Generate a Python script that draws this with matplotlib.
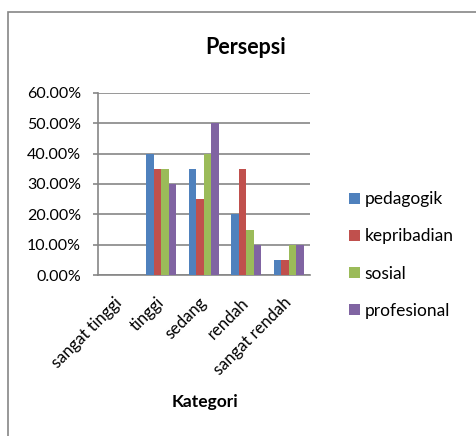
import numpy as np
import matplotlib.pyplot as plt
from matplotlib.ticker import PercentFormatter
from matplotlib.patches import Rectangle

plt.rcParams['font.family'] = ['Lato', 'DejaVu Sans']

categories = ['sangat tinggi', 'tinggi', 'sedang', 'rendah', 'sangat rendah']
series = ['pedagogik', 'kepribadian', 'sosial', 'profesional']
pedagogik = [0, 40, 35, 20, 5]
kepribadian = [0, 35, 25, 35, 5]
sosial = [0, 35, 40, 15, 10]
profesional = [0, 30, 50, 10, 10]
colors = ['#4F81BD', '#C0504D', '#9BBB59', '#8064A2']

fig = plt.figure(figsize=(4.77, 4.36), dpi=100)
ax = fig.add_axes([0.205, 0.369, 0.445, 0.418])

x = np.arange(len(categories))
w = 0.177
for i, (name, vals) in enumerate(zip(series, [pedagogik, kepribadian, sosial, profesional])):
    ax.bar(x + (i - 1.5) * w, vals, w, color=colors[i], label=name, zorder=3)

ax.set_ylim(0, 60)
ax.set_yticks(range(0, 61, 10))
ax.yaxis.set_major_formatter(PercentFormatter(decimals=2))
ax.set_xlim(-0.5, 4.5)
ax.set_xticks(x)
ax.set_xticklabels(categories, rotation=45, ha='right', va='center',
                   rotation_mode='anchor', fontsize=12)
ax.tick_params(axis='x', length=0, pad=18)
ax.tick_params(axis='y', length=3.6, width=1.2, color='#868686', labelsize=11.5, pad=8.5)
ax.grid(axis='y', color='#868686', linewidth=1.2, zorder=0)
for s in ['top', 'right']:
    ax.spines[s].set_visible(False)
for s in ['left', 'bottom']:
    ax.spines[s].set_color('#868686')
    ax.spines[s].set_linewidth(1.2)

fig.text(0.514, 0.892, 'Persepsi', ha='center', va='center', fontsize=15.5, fontweight='bold')
fig.text(0.43, 0.078, 'Kategori', ha='center', va='center', fontsize=12.5, fontweight='bold')

fig.legend(loc='center left', bbox_to_anchor=(0.699, 0.415), frameon=False,
           handlelength=0.63, handleheight=0.63, labelspacing=1.22, fontsize=12.5,
           handletextpad=0.25)

fig.add_artist(Rectangle((0.017, -0.1), 1.2, 1.072, transform=fig.transFigure,
                         fill=False, edgecolor='#868686', linewidth=1.2))

fig.savefig('out.png', dpi=100)
